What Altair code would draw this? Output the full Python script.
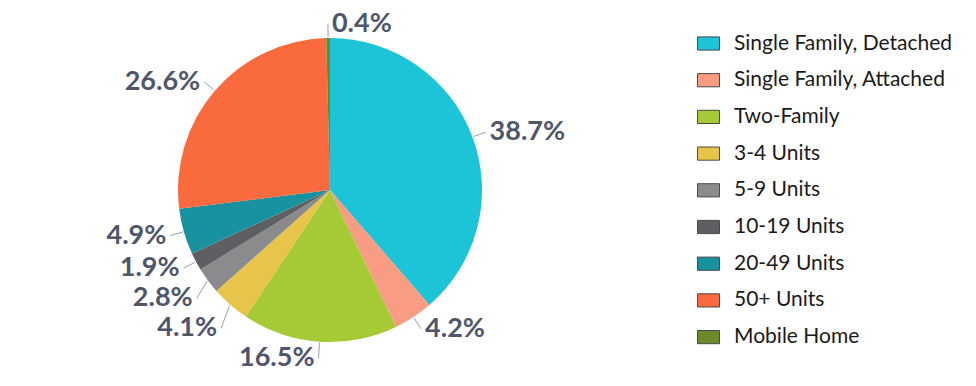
import altair as alt
import pandas as pd

categories = [
    "Single Family, Detached",
    "Single Family, Attached",
    "Two-Family",
    "3-4 Units",
    "5-9 Units",
    "10-19 Units",
    "20-49 Units",
    "50+ Units",
    "Mobile Home",
]
values = [38.7, 4.2, 16.5, 4.1, 2.8, 1.9, 4.9, 26.6, 0.4]
colors = [
    "#1dc3d7",
    "#f89c83",
    "#a6c936",
    "#e8c54a",
    "#8b8b8d",
    "#5e5f63",
    "#18929f",
    "#fa6a3f",
    "#6a8a2c",
]

df = pd.DataFrame({"category": categories, "value": values, "order": list(range(len(categories)))})

CX, CY, R = 330, 190, 152
RL = R + 14          # radius where leader lines end
GAP = 30             # minimum vertical spacing between labels
LABEL_COLOR = "#4f566b"

base = (
    alt.Chart(df)
    .transform_window(cum="sum(value)", sort=[alt.SortField("order")], frame=[None, 0])
    .transform_joinaggregate(total="sum(value)")
    .transform_calculate(
        a0="2*PI*(datum.cum - datum.value)/datum.total",
        a1="2*PI*datum.cum/datum.total",
    )
    .transform_calculate(
        mid="(datum.a0 + datum.a1)/2",
        label="format(datum.value, '.1f') + '%'",
    )
    .transform_calculate(
        ex=f"{CX} + {R + 1}*sin(datum.mid)",
        ey=f"{CY} - {R + 1}*cos(datum.mid)",
        lx=f"{CX} + {RL}*sin(datum.mid)",
        ly0=f"{CY} - {RL}*cos(datum.mid)",
    )
)

arcs = base.mark_arc(radius=R).encode(
    theta=alt.Theta("a0:Q", scale=None),
    theta2="a1:Q",
    x=alt.value(CX),
    y=alt.value(CY),
    color=alt.Color(
        "category:N",
        scale=alt.Scale(domain=categories, range=colors),
        sort=categories,
        legend=alt.Legend(
            title=None,
            orient="none",
            legendX=697,
            legendY=32,
            symbolType="M-1,-0.6H1V0.6H-1Z",
            symbolSize=484,
            symbolStrokeColor="#4a4a4a",
            symbolStrokeWidth=1,
            labelFont="Lato",
            labelFontSize=21,
            labelColor="#1a1a1a",
            rowPadding=14.7,
            labelOffset=14,
            padding=0,
            labelLimit=320,
        ),
    ),
)


def spread(chart):
    """Push overlapping labels of one side apart (label layout)."""
    c = chart
    prev = "ly0"
    for k in range(1, 4):
        c = c.transform_window(
            **{f"p{k}": f"lag({prev})"}, sort=[alt.SortField("ly0", order="ascending")]
        ).transform_calculate(
            **{f"ly{k}": f"datum.p{k} == null ? datum.{prev} : max(datum.{prev}, datum.p{k} + {GAP})"}
        )
        prev = f"ly{k}"
    return c


def side(cond, align, dx):
    grp = spread(base.transform_filter(cond))
    lines = grp.mark_rule(color="#9aa0ab", strokeWidth=1).encode(
        x=alt.X("ex:Q", scale=None),
        y=alt.Y("ey:Q", scale=None),
        x2="lx:Q",
        y2="ly3:Q",
    )
    texts = grp.mark_text(
        align=align,
        baseline="middle",
        dx=dx,
        fontSize=27,
        fontWeight="bold",
        font="Lato",
        color=LABEL_COLOR,
    ).encode(
        x=alt.X("lx:Q", scale=None),
        y=alt.Y("ly3:Q", scale=None),
        text="label:N",
    )
    return [lines, texts]


right_layers = side("sin(datum.mid) >= -0.05", "left", 4)
left_layers = side("sin(datum.mid) < -0.05", "right", -4)

chart = (
    alt.layer(arcs, *right_layers, *left_layers)
    .properties(width=680, height=386, padding=0, background="white")
    .configure_view(strokeWidth=0)
)

chart.save("out.html", embed_options={"renderer": "svg", "actions": False})
